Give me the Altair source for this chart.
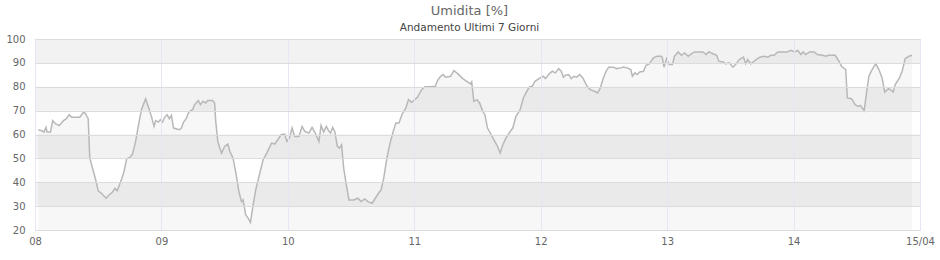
import altair as alt
import pandas as pd

# hours since 08/04 00:00
hours = [0.63, 1.3, 1.7, 2.1, 2.3, 2.95, 3.35, 3.95, 4.6, 5.4, 5.9, 6.5, 6.95, 8.5, 9.2, 9.5, 10.1, 10.4, 11.1, 11.6,
         12.0, 12.6, 13.5, 14.2, 14.7, 15.2, 15.6, 16.4, 16.9, 17.4, 18.0, 18.5, 19.1, 19.6, 20.2, 21.0, 21.7, 22.1, 22.6, 22.9,
         23.4, 23.8, 24.2, 24.6, 25.1, 25.5, 25.9, 26.3, 27.4, 27.8, 28.2, 28.7, 29.2, 29.9, 30.3, 31.0, 31.4, 31.9, 32.4, 32.8,
         33.7, 34.1, 34.3, 34.7, 35.4, 36.0, 36.6, 37.0, 37.6, 38.2, 38.7, 39.2, 39.5, 40.0, 40.4, 40.9, 41.3, 41.9, 42.6, 43.3,
         44.0, 44.9, 45.5, 46.1, 46.7, 47.4, 47.8, 48.3, 48.8, 49.3, 50.1, 50.7, 51.2, 52.0, 52.6, 53.2, 53.9, 54.3, 54.8, 55.3,
         55.8, 56.1, 56.5, 56.9, 57.4, 57.8, 58.2, 58.6, 59.1, 59.6, 60.5, 61.3, 61.9, 62.6, 63.2, 64.0, 64.6, 65.2, 65.7, 66.2,
         66.8, 67.4, 68.0, 68.5, 69.1, 69.7, 70.4, 70.9, 71.5, 72.1, 72.6, 73.4, 74.0, 74.9, 76.0, 76.4, 77.0, 77.5, 77.9, 78.9,
         79.5, 80.3, 81.2, 82.1, 82.7, 82.9, 83.3, 83.9, 84.4, 85.0, 85.4, 85.9, 86.6, 87.2, 87.8, 88.3, 88.8, 89.4, 90.0, 90.7,
         91.3, 92.1, 92.7, 93.2, 93.8, 94.4, 94.9, 95.9, 96.5, 96.9, 97.6, 98.2, 98.8, 99.4, 99.9, 100.3, 100.7, 101.3, 101.8, 102.3,
         102.8, 103.4, 104.0, 104.8, 105.4, 106.2, 106.8, 107.3, 107.8, 108.4, 108.9, 109.8, 110.4, 111.2, 111.7, 112.4, 113.1, 113.4, 113.9, 114.3,
         114.8, 115.5, 116.0, 116.6, 117.4, 118.1, 118.9, 119.1, 119.4, 119.9, 120.4, 121.0, 121.4, 122.1, 122.7, 123.3, 124.0, 124.6, 125.2, 126.8,
         127.4, 127.9, 128.7, 129.4, 129.8, 130.6, 131.1, 131.8, 132.5, 133.1, 133.7, 134.5, 134.9, 135.3, 135.9, 136.9, 137.6, 138.5, 139.1, 139.7,
         140.3, 141.0, 142.8, 143.5, 144.2, 144.8, 145.4, 145.8, 146.3, 147.0, 147.9, 148.5, 149.5, 150.1, 150.6, 151.9, 152.6, 153.1, 153.9, 154.2,
         155.0, 155.7, 156.3, 156.7, 157.4, 157.8, 158.3, 158.9, 159.6, 160.2, 160.8, 161.3, 162.0, 162.4, 162.9, 163.3, 164.1, 164.6, 165.2, 165.9,
         166.5]

humidity = [62.0, 61.6, 61.0, 63.0, 61.0, 61.0, 65.8, 64.4, 63.7, 65.8, 66.5, 68.3, 67.2, 67.2, 69.3, 69.0, 66.6, 50.1, 44.5, 40.3,
            36.4, 35.4, 33.3, 35.0, 35.8, 37.5, 36.4, 41.0, 44.5, 49.8, 50.4, 51.8, 57.1, 63.4, 70.4, 75.0, 70.4, 67.6, 63.4, 65.8,
            65.2, 66.2, 65.2, 67.2, 68.3, 66.6, 68.0, 62.7, 62.0, 62.7, 65.2, 66.6, 69.4, 70.4, 72.5, 74.2, 72.5, 73.9, 73.2, 74.2,
            74.2, 73.2, 65.8, 57.1, 52.2, 55.0, 56.0, 52.9, 50.1, 43.1, 36.1, 31.9, 32.6, 26.3, 25.2, 23.2, 29.1, 36.8, 43.1, 49.4,
            52.2, 56.4, 56.0, 57.8, 59.9, 60.2, 57.1, 58.5, 62.7, 59.2, 59.2, 63.4, 61.3, 60.6, 63.0, 60.6, 57.1, 63.8, 61.0, 63.4,
            61.3, 60.6, 63.0, 61.3, 55.0, 54.3, 55.7, 45.9, 38.9, 32.6, 32.6, 33.3, 31.9, 33.0, 31.9, 31.2, 33.3, 35.4, 36.8, 41.7,
            50.1, 56.4, 61.3, 64.8, 64.8, 68.6, 71.1, 74.6, 73.5, 74.6, 75.6, 78.8, 80.0, 80.0, 80.2, 82.6, 84.4, 85.1, 84.0, 84.4,
            86.8, 85.4, 83.4, 82.0, 81.2, 82.0, 73.9, 74.6, 73.2, 69.7, 68.3, 62.7, 59.9, 57.4, 55.0, 52.2, 55.7, 58.5, 60.6, 62.7,
            67.6, 70.4, 75.3, 77.4, 79.8, 80.2, 82.3, 83.7, 84.4, 83.4, 85.4, 86.5, 85.8, 87.6, 86.5, 84.0, 84.8, 85.1, 83.4, 84.4,
            84.0, 85.1, 83.7, 80.2, 78.8, 78.1, 77.4, 79.5, 83.0, 86.5, 88.2, 88.2, 87.6, 87.9, 88.3, 87.9, 87.2, 84.4, 85.8, 85.1,
            86.2, 86.5, 89.0, 89.6, 92.1, 92.8, 92.8, 92.1, 88.2, 91.8, 89.3, 89.3, 92.8, 94.6, 93.2, 94.2, 92.8, 93.8, 94.6, 94.6,
            93.5, 94.6, 93.8, 93.2, 90.7, 90.4, 89.6, 90.0, 88.2, 89.6, 91.4, 92.4, 89.6, 91.4, 89.6, 91.4, 92.4, 92.8, 92.4, 93.2,
            93.2, 94.6, 94.6, 95.3, 94.6, 95.2, 93.5, 94.6, 93.5, 94.6, 94.6, 93.5, 93.2, 92.8, 93.2, 93.2, 90.7, 88.6, 87.2, 75.3,
            75.0, 72.5, 71.8, 72.2, 70.0, 76.7, 84.4, 87.2, 89.6, 87.2, 83.7, 77.8, 79.2, 78.8, 77.8, 80.9, 83.7, 86.5, 91.8, 92.8,
            93.2]

tick_hours = [0, 24, 48, 72, 96, 120, 144, 168]
tick_labels = ["08", "09", "10", "11", "12", "13", "14", "15/04"]
y_ticks = [20, 30, 40, 50, 60, 70, 80, 90, 100]
band_low = [30, 50, 70, 90]
band_high = [40, 60, 80, 100]

x_domain = [tick_hours[0], tick_hours[-1]]
y_domain = [y_ticks[0], y_ticks[-1]]

df = pd.DataFrame({"h": hours, "v": humidity})
bands = pd.DataFrame({"lo": band_low, "hi": band_high,
                      "x0": [x_domain[0]] * len(band_low), "x1": [x_domain[1]] * len(band_low)})

label_expr = "[" + ",".join("'%s'" % t for t in tick_labels) + "][round(datum.value/24)]"

x_scale = alt.Scale(domain=x_domain, nice=False, zero=False)
y_scale = alt.Scale(domain=y_domain, nice=False, zero=False)

x_axis = alt.Axis(values=tick_hours, labelExpr=label_expr, title=None, grid=True,
                  gridColor="#e6e6f5", gridWidth=1, domain=False, ticks=False,
                  labelFont="DejaVu Sans", labelFontSize=10, labelColor="#666666",
                  labelPadding=6, labelFlush=False, labelOverlap=False, zindex=1, labelAngle=0)
y_axis = alt.Axis(values=y_ticks, title=None, grid=True, gridColor="#dcdcdc", gridWidth=1,
                  domain=False, ticks=False, labelFont="DejaVu Sans", labelFontSize=10,
                  labelColor="#666666", labelPadding=10, labelOverlap=False, zindex=1)

band_layer = alt.Chart(bands).mark_rect(color="#f2f2f2").encode(
    x=alt.X("x0:Q", scale=x_scale, axis=x_axis),
    x2="x1:Q",
    y=alt.Y("lo:Q", scale=y_scale, axis=y_axis),
    y2="hi:Q",
)

area_layer = alt.Chart(df).mark_area(color="#000000", opacity=0.03).encode(
    x=alt.X("h:Q", scale=x_scale, axis=x_axis),
    y=alt.Y("v:Q", scale=y_scale, axis=y_axis),
    y2=alt.datum(y_domain[0]),
)

line_layer = alt.Chart(df).mark_line(color="#b8b8b8", strokeWidth=1.5).encode(
    x=alt.X("h:Q", scale=x_scale, axis=x_axis),
    y=alt.Y("v:Q", scale=y_scale, axis=y_axis),
)

chart = alt.layer(band_layer, area_layer, line_layer).properties(
    width=885,
    height=191,
    title=alt.TitleParams(text="Umidita [%]", subtitle="Andamento Ultimi 7 Giorni",
                          anchor="middle", dx=-8, offset=1,
                          font="DejaVu Sans", fontSize=13, fontWeight="normal", color="#666666",
                          subtitleFont="DejaVu Sans", subtitleFontSize=10.5, subtitleColor="#444444",
                          subtitlePadding=5),
    autosize=alt.AutoSizeParams(type="none"),
    padding={"left": 35, "top": 39, "right": 20, "bottom": 30},
).configure_view(stroke="#d4d4d4", strokeWidth=1).configure(background="white")

chart.save("out.html", embed_options={"renderer": "svg", "actions": False})
